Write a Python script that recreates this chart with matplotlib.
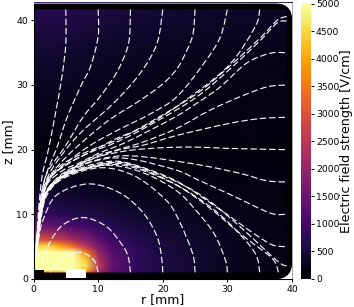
import numpy as np
import matplotlib
matplotlib.use("Agg")
import matplotlib.pyplot as plt
from matplotlib.colors import Normalize
from matplotlib.image import NonUniformImage
from matplotlib.patches import Rectangle, PathPatch
from matplotlib.path import Path

grid_r = [0, 2, 4, 6, 8, 10, 12, 16, 20, 30, 40]
grid_z = [0.2, 0.55, 0.9, 1.3, 2, 3, 4, 5, 6, 8, 10, 14, 20, 30, 36, 42.6]
field_strength = [
    [1200, 1200, 1300, 3000, 2000, 1000, 800, 600, 500, 250, 150],
    [1500, 1500, 1800, 3500, 2600, 1400, 1000, 700, 540, 270, 165],
    [3500, 3400, 3800, 4600, 3400, 1900, 1250, 780, 560, 280, 170],
    [5000, 5000, 5000, 5000, 4200, 2300, 1350, 800, 560, 280, 170],
    [5000, 5000, 5000, 5000, 4600, 2500, 1400, 800, 560, 280, 170],
    [5000, 5000, 5000, 5000, 4300, 2300, 1350, 800, 560, 280, 170],
    [5000, 5000, 5000, 5000, 3600, 2000, 1250, 780, 540, 280, 170],
    [4500, 4500, 4000, 3300, 2400, 1600, 1100, 730, 510, 280, 170],
    [3000, 2900, 2600, 2200, 1800, 1300, 950, 660, 470, 270, 170],
    [1500, 1450, 1300, 1150, 1000, 850, 720, 520, 410, 250, 170],
    [900, 820, 740, 680, 620, 550, 490, 390, 330, 220, 160],
    [350, 320, 300, 280, 260, 240, 220, 200, 180, 170, 140],
    [130, 130, 130, 130, 130, 130, 120, 120, 120, 120, 130],
    [300, 300, 290, 280, 270, 260, 250, 230, 210, 180, 180],
    [480, 470, 450, 430, 410, 390, 370, 340, 310, 260, 240],
    [750, 740, 720, 700, 660, 620, 580, 520, 470, 380, 340],
]

top5_r = [5, 5, 4.4, 3.4, 2.3, 1.35, 0.9, 0.6, 0.4]
top5_z = [41.7, 36.4, 31.3, 25.6, 20, 16, 12, 8, 4]
top10_r = [10, 10, 8.8, 7.4, 5.2, 3.65, 1.9, 1.0, 0.7, 0.4]
top10_z = [41.7, 37.5, 32.8, 30, 25, 20.4, 16, 12, 8, 4]
top15_r = [15, 14.7, 12.9, 10.3, 7.7, 4.9, 2.1, 1.1, 0.7, 0.4]
top15_z = [41.7, 36.4, 32, 28.2, 25.1, 20.5, 16.4, 12, 8, 4]
top20_r = [20, 19.1, 16.5, 12.4, 7.7, 5.0, 2.3, 1.2, 0.75, 0.45]
top20_z = [41.7, 36.4, 31.8, 27.2, 23, 20, 16, 12, 8, 4]
top25_r = [25, 24.7, 23.8, 22.2, 19.8, 16, 12, 8.5, 5.2, 2.5, 1.25, 0.8, 0.45]
top25_z = [41.7, 38, 35.5, 32.5, 30, 27.3, 24.8, 22, 19, 15.8, 12, 8, 4]
top30_r = [30, 28.9, 26.4, 22.2, 18, 13, 9, 5.5, 2.6, 1.3, 0.8, 0.45]
top30_z = [41.7, 37.4, 33.4, 28.2, 25.5, 23, 20.8, 18.3, 15.6, 12, 8, 4]
top35_r = [35, 34.3, 30, 22.2, 17, 13, 9.5, 5.5, 2.4, 1.3, 0.8, 0.45]
top35_z = [41.7, 39, 32.8, 26.7, 23.5, 21.8, 20, 17.9, 15.5, 12.2, 8.6, 4]

up1_r = [39.2, 37.7, 35, 30, 26, 22.2, 16, 12, 8.8, 4.7, 2.1, 1.3, 0.8, 0.45]
up1_z = [40.6, 40.0, 37.2, 32.6, 29.2, 26.7, 23.1, 21.1, 19.9, 17.9, 15.3, 12.2, 8.6, 5]
up2_r = [39.2, 37.7, 35, 30, 26, 22.2, 16, 12, 8.8, 4.7, 2.1, 1.3, 0.8, 0.45]
up2_z = [39.9, 39.6, 36.8, 32.1, 28.7, 26.2, 22.7, 20.8, 19.6, 17.5, 15.0, 12.0, 8.5, 5]

side35_r = [38.9, 36.6, 33, 28.9, 25.3, 22.2, 18, 14, 10, 7, 4.7, 2.2, 1.2, 0.75, 0.4]
side35_z = [35, 34.9, 33.4, 29.7, 27.2, 25.2, 23, 21, 19.4, 17.9, 16.9, 14.8, 11.8, 8.4, 5]
side30_r = [38.9, 36.1, 32.5, 27.3, 22.2, 17, 13, 9, 6, 3.5, 2, 1, 0.5]
side30_z = [30, 29.7, 28.4, 26.1, 23.3, 21.2, 20, 18.8, 17, 15.2, 13.4, 9, 5]
side25_r = [38.9, 35, 30, 22.2, 17, 13, 9, 5.5, 3.2, 1.9, 1, 0.5]
side25_z = [25, 24.8, 24, 22.2, 20.7, 19.9, 18.5, 16.8, 15.1, 13.2, 9, 5]
side20_r = [38.9, 30, 25, 20, 15, 10.3, 7, 4.5, 2.8, 1.7, 1, 0.5]
side20_z = [20, 20.2, 20.4, 20.3, 19.9, 19.0, 17.7, 16.3, 14.7, 12.9, 9, 5]
side15_r = [38.9, 36, 32.5, 27, 22.2, 17, 12.9, 8.5, 5, 2.8, 1.7, 1, 0.5]
side15_z = [15, 15.2, 16.2, 17.4, 18.2, 18.9, 19, 18, 16.2, 14.4, 12.7, 9, 5]
side10_r = [38.9, 36.6, 31, 25.3, 22.2, 16, 12, 8, 5, 2.7, 1.6, 0.95, 0.5]
side10_z = [10, 10.2, 12.8, 15.4, 16.8, 18.4, 18.7, 17.8, 16.2, 14.2, 12.5, 9, 5]
side5_r = [38.9, 36.9, 34, 28.9, 22.2, 15.5, 12, 8, 4.7, 2.6, 1.3, 0.8, 0.45]
side5_z = [5, 5.3, 7.1, 10.7, 15.1, 17.7, 18.2, 17.4, 16.0, 14.2, 12.3, 8.6, 5]
side2_r = [39.2, 37.7, 32.5, 27.3, 22.2, 15.5, 12, 8, 4.7, 2.6, 1.3, 0.8, 0.45]
side2_z = [2, 2.8, 7.6, 12, 15.0, 17.6, 18.0, 17.2, 16.0, 14.1, 12.1, 8.5, 5]

floor38_r = [37.9, 36.9, 32, 27, 22, 16, 12, 8, 4.7, 2.5, 1.3, 0.8, 0.45]
floor38_z = [1, 3.2, 7, 11.2, 14.6, 17.3, 17.9, 17.1, 15.9, 14, 12, 8.4, 5]
floor35_r = [35, 34.3, 31, 27.3, 22.2, 16, 12, 8, 4.7, 2.4, 1.25, 0.8, 0.45]
floor35_z = [1, 4, 7.9, 11.2, 14.5, 17.1, 17.7, 17.0, 15.9, 13.8, 11.6, 8.2, 5]
floor30_r = [30, 29.7, 27.9, 24.8, 22.2, 18, 14, 10, 5, 2.2, 1.2, 0.7, 0.4]
floor30_z = [1, 2.9, 7.1, 11, 13.6, 16, 17.3, 17.5, 15.9, 13.5, 10.5, 7.5, 4]
floor25_r = [25, 24.6, 22.2, 20.1, 15.5, 10.3, 4.7, 2.1, 1.1, 0.6, 0.35]
floor25_z = [1, 4, 9.7, 12.6, 16, 17.2, 15.6, 13, 9, 5, 3]
floor20_r = [20, 19.8, 19.1, 17, 13.4, 8.5, 3.6, 1.5, 0.8, 0.4]
floor20_z = [1, 3.5, 6.6, 10.2, 13.3, 14.7, 13, 9.2, 6.2, 3.5]
floor15_r = [15, 14.7, 13.9, 11.3, 7.7, 4.6, 2.6, 1.3, 1.0]
floor15_z = [1, 3.2, 5, 8.1, 9.5, 8.4, 5.8, 2.5, 1.4]
floor10_r = [10, 9.5, 8.2, 6.8, 4.6, 3.1, 2.6]
floor10_z = [1, 2.7, 3.8, 4.1, 3.2, 1.7, 0.9]

field_lines = [
    (top5_r, top5_z), (top10_r, top10_z), (top15_r, top15_z), (top20_r, top20_z),
    (top25_r, top25_z), (top30_r, top30_z), (top35_r, top35_z),
    (up1_r, up1_z), (up2_r, up2_z),
    (side35_r, side35_z), (side30_r, side30_z), (side25_r, side25_z),
    (side20_r, side20_z), (side15_r, side15_z), (side10_r, side10_z),
    (side5_r, side5_z), (side2_r, side2_z),
    (floor38_r, floor38_z), (floor35_r, floor35_z), (floor30_r, floor30_z),
    (floor25_r, floor25_z), (floor20_r, floor20_z), (floor15_r, floor15_z),
    (floor10_r, floor10_z),
]

W, H = 354, 307
fig = plt.figure(figsize=(W / 100, H / 100), dpi=100)
ax = fig.add_axes([33.5 / W, (H - 279) / H, 258.5 / W, 275.5 / H])
R_MAX, Z_MAX = 40, 42.6

heat = NonUniformImage(ax, interpolation="bilinear", extent=(0, R_MAX, 0, Z_MAX),
                       cmap="inferno", norm=Normalize(0, 5000), zorder=1)
heat.set_data(grid_r, grid_z, np.array(field_strength, dtype=float))
ax.add_image(heat)


def smooth_path(r, z):
    """Bezier path through the read points (Catmull-Rom tangents)."""
    p = np.column_stack([r, z])
    verts = [p[0]]
    codes = [Path.MOVETO]
    for i in range(len(p) - 1):
        a = p[max(i - 1, 0)]
        b = p[i]
        c = p[i + 1]
        d = p[min(i + 2, len(p) - 1)]
        verts += [b + (c - a) / 6, c - (d - b) / 6, c]
        codes += [Path.CURVE4] * 3
    return Path(verts, codes)


for r, z in field_lines:
    ax.add_patch(PathPatch(smooth_path(r, z), fc="none", ec="white", lw=0.85,
                           ls=(0, (5.5, 2.4)), zorder=2, alpha=0.95))


def rounded(x0, y0, x1, y1, rad, reverse=False):
    verts = [(x0, y0), (x1 - rad, y0), (x1, y0), (x1, y0 + rad),
             (x1, y1 - rad), (x1, y1), (x1 - rad, y1), (x0, y1), (x0, y0)]
    codes = [Path.MOVETO, Path.LINETO, Path.CURVE3, Path.CURVE3,
             Path.LINETO, Path.CURVE3, Path.CURVE3, Path.LINETO, Path.CLOSEPOLY]
    if reverse:
        verts = verts[::-1]
    return Path(verts, codes)


box = Path([(0, 0), (0, Z_MAX + 0.1), (R_MAX + 0.1, Z_MAX + 0.1), (R_MAX + 0.1, 0), (0, 0)],
           [Path.MOVETO, Path.LINETO, Path.LINETO, Path.LINETO, Path.CLOSEPOLY])
wall_outer = rounded(0, 0, R_MAX, Z_MAX, 2.6)
wall_inner = rounded(0, 1.0, 39.2, 41.7, 1.6, reverse=True)
ax.add_patch(PathPatch(Path.make_compound_path(box, wall_outer), fc="white", ec="none", zorder=3,
                       clip_on=False))
ax.add_patch(PathPatch(Path.make_compound_path(wall_outer, wall_inner), fc="black", ec="none", zorder=3))
ax.add_patch(Rectangle((0, 0), 1.65, 1.35, fc="black", ec="none", zorder=4))
ax.add_patch(Rectangle((0, 0), 8.1, 0.15, fc="black", ec="none", zorder=4))
ax.add_patch(Rectangle((5, 0.15), 3.1, 1.35, fc="white", ec="none", zorder=4))
ax.add_patch(Rectangle((0, 1.35), 0.15, 4.0, fc="white", ec="none", zorder=4))

ax.set_xlim(0, R_MAX)
ax.set_ylim(0, Z_MAX)
ax.spines["top"].set_visible(False)
ax.spines["right"].set_visible(False)
for s in ("left", "bottom"):
    ax.spines[s].set_linewidth(0.8)
    ax.spines[s].set_zorder(5)
ax.set_xticks(range(0, 41, 10))
ax.set_yticks(range(0, 41, 10))
ax.tick_params(labelsize=6.7, length=2.5, width=0.7, pad=1.5)
ax.set_xlabel("r [mm]", fontsize=9, labelpad=-0.5)
ax.set_ylabel("z [mm]", fontsize=9, labelpad=0.5)

cax = fig.add_axes([300.5 / W, (H - 279) / H, 10 / W, 275.5 / H])
cb = fig.colorbar(heat, cax=cax)
cb.set_ticks(range(0, 5001, 500))
cb.outline.set_visible(False)
cb.ax.tick_params(labelsize=6.7, length=2.5, width=0.7, pad=1.5)
cb.set_label("Electric field strength [V/cm]", fontsize=9.2, labelpad=0)

fig.savefig("out.png", dpi=100)
